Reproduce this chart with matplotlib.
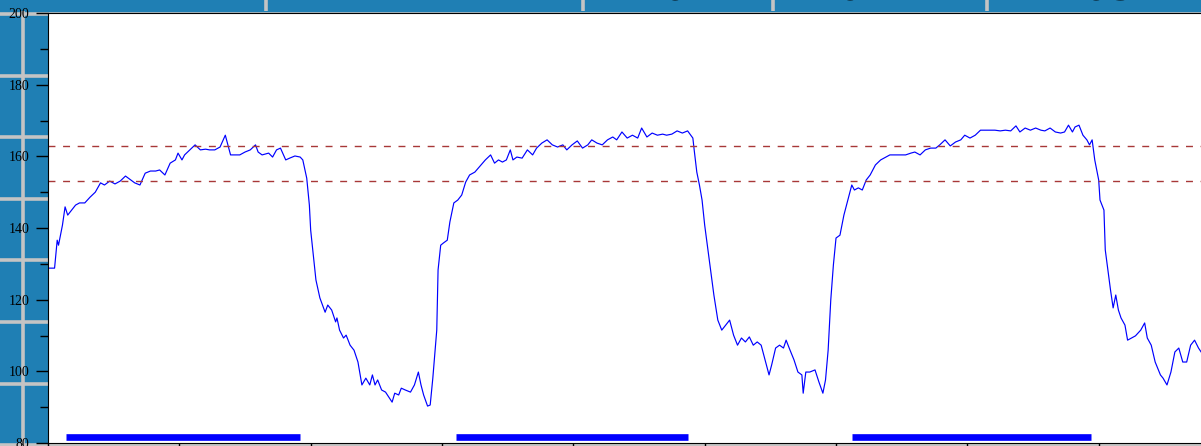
import matplotlib
matplotlib.use("Agg")
import matplotlib.pyplot as plt
import numpy as np

# ── Heart-rate trace (minutes, bpm) ──────────────────────────────
t_min = [
    0.0, 0.5, 0.7, 0.8, 1.1, 1.3, 1.5, 1.8, 2.1, 2.4, 2.8, 3.2, 3.6, 4.0, 4.3,
    4.7, 5.1, 5.5, 5.9, 6.2, 6.6, 7.0, 7.4, 7.8, 8.2, 8.5, 8.9, 9.3, 9.7, 9.9,
    10.2, 10.4, 10.8, 11.2, 11.6, 12.0, 12.3, 12.7, 13.1, 13.5, 13.9, 14.2, 14.6, 15.0, 15.4,
    15.8, 16.0, 16.3, 16.8, 17.1, 17.4, 17.7, 18.1, 18.4, 18.8, 19.2, 19.4, 19.7, 19.9, 20.0,
    20.2, 20.4, 20.7, 21.1, 21.3, 21.6, 21.9, 22.0, 22.2, 22.5, 22.7, 23.0, 23.3, 23.6, 23.9,
    24.2, 24.5, 24.7, 24.9, 25.1, 25.4, 25.7, 26.0, 26.2, 26.4, 26.7, 26.9, 27.2, 27.6, 27.9,
    28.2, 28.4, 28.6, 28.9, 29.1, 29.3, 29.6, 29.7, 29.9, 30.1, 30.4, 30.6, 30.9, 31.2, 31.5,
    31.8, 32.1, 32.5, 32.9, 33.3, 33.7, 34.0, 34.3, 34.6, 34.9, 35.2, 35.4, 35.7, 36.1, 36.5,
    36.9, 37.2, 37.6, 38.0, 38.4, 38.8, 39.2, 39.5, 39.9, 40.3, 40.7, 41.1, 41.4, 41.8, 42.2,
    42.6, 43.0, 43.3, 43.7, 44.1, 44.5, 44.9, 45.2, 45.6, 46.0, 46.4, 46.8, 47.1, 47.5, 47.9,
    48.3, 48.7, 49.1, 49.2, 49.4, 49.6, 49.8, 50.0, 50.3, 50.5, 50.7, 51.0, 51.3, 51.6, 51.9,
    52.2, 52.5, 52.8, 53.1, 53.4, 53.7, 54.0, 54.3, 54.6, 54.9, 55.1, 55.4, 55.7, 56.0, 56.2,
    56.5, 56.8, 57.1, 57.4, 57.5, 57.7, 58.0, 58.4, 58.7, 59.0, 59.2, 59.4, 59.6, 59.8, 60.0,
    60.3, 60.6, 60.9, 61.2, 61.4, 61.7, 62.0, 62.3, 62.6, 63.0, 63.4, 63.8, 64.1, 64.5, 64.9,
    65.3, 65.7, 66.0, 66.4, 66.8, 67.2, 67.6, 67.9, 68.3, 68.7, 69.1, 69.5, 69.8, 70.2, 70.6,
    71.0, 71.4, 71.7, 72.1, 72.5, 72.9, 73.3, 73.7, 74.0, 74.4, 74.8, 75.2, 75.6, 75.9, 76.3,
    76.7, 77.1, 77.4, 77.7, 78.0, 78.2, 78.5, 78.8, 79.1, 79.3, 79.5, 79.7, 80.0, 80.1, 80.4,
    80.5, 80.7, 80.9, 81.1, 81.3, 81.5, 81.7, 82.0, 82.2, 82.5, 82.8, 83.2, 83.5, 83.7, 84.0,
    84.3, 84.7, 84.9, 85.2, 85.5, 85.8, 86.1, 86.4, 86.7, 87.0, 87.3, 87.6, 87.8,
]
hr = [
    128.8, 128.8, 136.6, 135.2, 140.8, 145.9, 143.6, 145.0, 146.4, 147.0, 147.0, 148.6, 150.0, 152.6, 152.0,
    153.1, 152.3, 153.1, 154.5, 153.7, 152.6, 152.0, 155.3, 155.9, 155.9, 156.2, 154.8, 158.1, 159.0, 160.9,
    159.0, 160.4, 161.8, 163.2, 161.8, 162.0, 161.8, 161.8, 162.6, 165.9, 160.4, 160.4, 160.4, 161.2, 161.8,
    163.2, 161.2, 160.4, 160.9, 159.8, 161.8, 162.3, 159.0, 159.5, 160.1, 159.8, 159.0, 153.9, 146.4, 139.4,
    132.5, 125.5, 120.5, 116.5, 118.5, 117.1, 113.8, 114.9, 111.5, 109.3, 110.1, 107.3, 105.9, 102.6, 96.2,
    98.1, 96.2, 99.0, 96.2, 97.6, 94.8, 94.2, 92.5, 91.4, 93.9, 93.4, 95.3, 94.8, 94.2, 96.2,
    99.8, 96.2, 93.4, 90.3, 90.6, 98.1, 111.5, 128.3, 135.2, 135.8, 136.6, 141.7, 147.0, 147.8, 149.2,
    152.8, 154.8, 155.6, 157.3, 159.0, 160.4, 158.1, 159.0, 158.4, 159.0, 161.8, 159.0, 159.8, 159.5, 161.8,
    160.4, 162.3, 163.7, 164.6, 163.2, 162.6, 163.2, 161.8, 163.2, 164.3, 162.3, 163.2, 164.6, 163.7, 163.2,
    164.6, 165.4, 164.6, 166.8, 165.1, 165.9, 165.1, 167.9, 165.4, 166.5, 165.9, 166.2, 165.9, 166.2, 167.1,
    166.5, 167.1, 165.1, 161.8, 155.6, 152.0, 147.8, 140.8, 132.5, 126.9, 121.3, 114.3, 111.5, 112.9, 114.3,
    110.1, 107.3, 109.3, 108.2, 109.6, 107.3, 108.2, 107.3, 103.2, 99.0, 101.8, 106.5, 107.3, 106.5, 108.7,
    105.9, 103.2, 99.8, 99.0, 93.9, 99.8, 99.8, 100.4, 97.0, 93.9, 97.6, 105.9, 119.9, 129.7, 137.2,
    138.0, 143.6, 147.8, 152.0, 150.6, 151.2, 150.6, 153.4, 154.8, 157.6, 159.0, 159.8, 160.4, 160.4, 160.4,
    160.4, 160.9, 161.2, 160.4, 161.8, 162.3, 162.3, 163.2, 164.6, 162.9, 164.0, 164.6, 165.9, 165.1, 165.9,
    167.3, 167.3, 167.3, 167.3, 167.1, 167.3, 167.1, 168.5, 166.8, 167.9, 167.3, 167.9, 167.3, 167.1, 167.9,
    166.8, 166.5, 166.8, 168.7, 166.8, 168.2, 168.7, 165.9, 164.6, 163.2, 164.6, 159.0, 153.4, 147.8, 145.0,
    133.9, 128.3, 122.7, 117.7, 121.3, 117.1, 114.9, 112.9, 108.7, 109.3, 109.9, 111.5, 113.5, 109.3, 107.3,
    102.6, 99.0, 98.1, 96.2, 99.8, 105.4, 106.5, 102.6, 102.6, 107.3, 108.7, 106.5, 105.4,
]

# work intervals and target zone
work_start = [1.4, 31.1, 61.2]
work_end = [19.2, 48.7, 79.4]
work_level = 81.7
zone_low, zone_high = 153, 163

header_labels = ["MIN", "161", "162", "163"]

BG = "#1f7fb4"
GRID = "#c4c4c4"

fig = plt.figure(figsize=(12.01, 4.46), dpi=100, facecolor=BG)

# ── Background panel grid ────────────────────────────────────────
bg = fig.add_axes([0, 0, 1, 1], zorder=0)
bg.set_axis_off()
bg.set_xlim(0, 1); bg.set_ylim(0, 1)
for y in [0.9686, 0.8305, 0.6924, 0.5543, 0.4162, 0.2781, 0.1400, 0.0019]:
    bg.axhline(y, color=GRID, lw=2.6)
bg.axvline(0.0192, color=GRID, lw=2.6)

# ── Header strip ─────────────────────────────────────────────────
head = fig.add_axes([0, 1 - 11 / 446, 1, 11 / 446], zorder=1)
head.set_facecolor(BG)
head.set_xlim(0, 1); head.set_ylim(0, 1)
head.set_xticks([]); head.set_yticks([])
for s in head.spines.values():
    s.set_visible(False)
for x in [0.2215, 0.4854, 0.6436, 0.8218]:
    head.axvline(x, color=GRID, lw=2.6)
for x, lab in zip([0.054, 0.562, 0.708, 0.913], header_labels):
    fig.text(x, 0.9993, lab, ha="center", va="baseline", fontsize=30,
             color="black", zorder=5)

# ── Main chart ───────────────────────────────────────────────────
ax = fig.add_axes([0.03997, 0.00673, 0.9842, 0.9641], zorder=2)
ax.set_facecolor("white")
ax.plot(t_min, hr, color="#0000ff", lw=0.85)
for lvl in (zone_high, zone_low):
    ax.axhline(lvl, color="#a83838", lw=1.0, ls=(0, (5, 5.5)))
ax.hlines([work_level] * len(work_start), work_start, work_end,
          color="#0000ff", lw=4.8, capstyle="butt")

ax.set_xlim(0, 90)
ax.set_ylim(80, 200)
ax.set_xticks(np.arange(0, 91, 10))
ax.set_yticks(np.arange(80, 201, 20))
ax.set_yticks(np.arange(90, 200, 20), minor=True)
ax.tick_params(axis="y", which="major", direction="out", length=8.6, width=1,
               labelsize=10, pad=5)
ax.tick_params(axis="y", which="minor", direction="out", length=5.8, width=1)
ax.tick_params(axis="x", direction="out", length=4, width=1)
for lab in ax.get_yticklabels():
    lab.set_family("Liberation Serif")

fig.savefig("out.png", dpi=100, facecolor=BG)
